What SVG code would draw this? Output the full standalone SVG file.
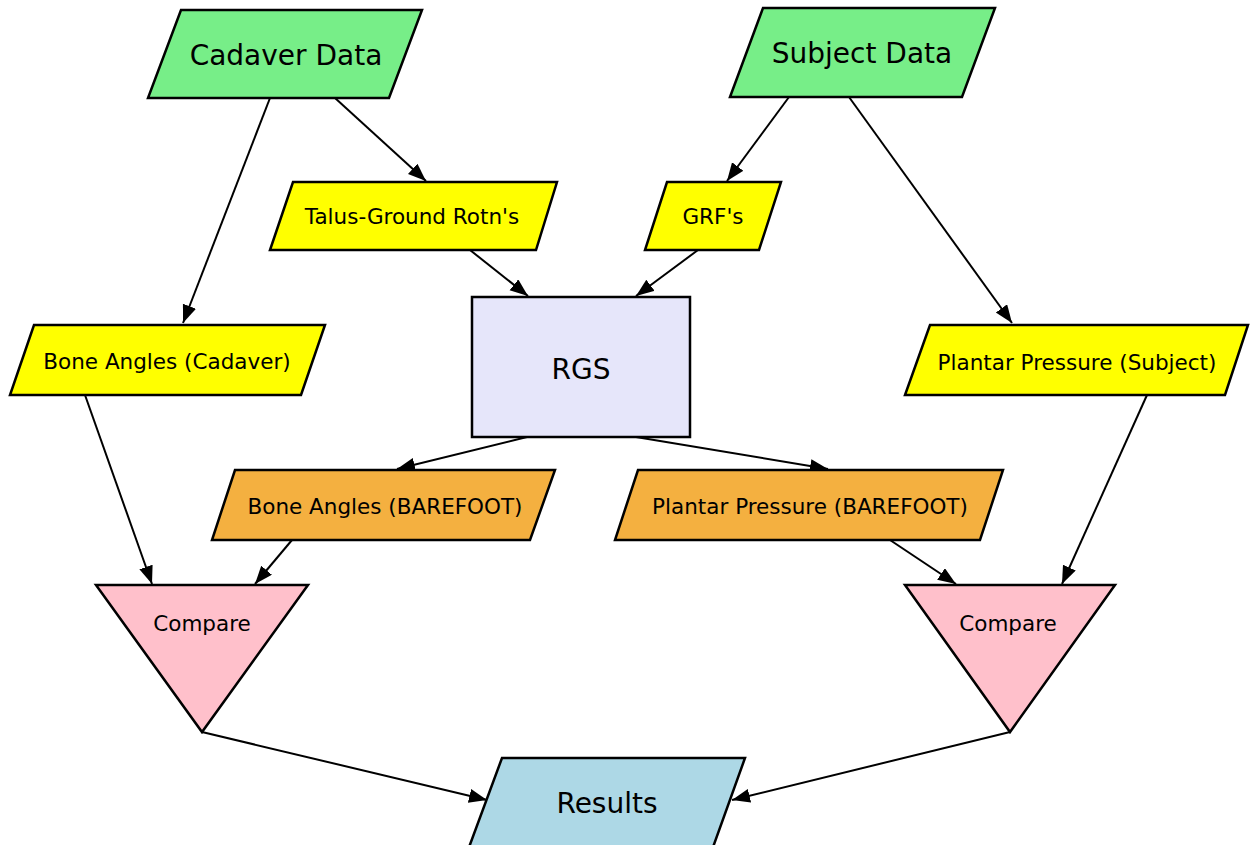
<svg xmlns="http://www.w3.org/2000/svg" width="1250" height="845" viewBox="0 0 1250 845">
<style>
.n{stroke:#000;stroke-width:2.5;stroke-linejoin:miter}
.g{fill:#77ee88}.y{fill:#ffff00}.o{fill:#f4b040}.p{fill:#ffc0cb}.l{fill:#e6e6fa}.b{fill:#add8e6}
text{font-family:"DejaVu Sans",sans-serif;text-anchor:middle;dominant-baseline:central;fill:#000}
.big{font-size:28px}.mid{font-size:21.5px}
.e{stroke:#000;stroke-width:2;fill:none;marker-end:url(#ah)}
</style>
<defs>
<marker id="ah" markerUnits="userSpaceOnUse" markerWidth="20" markerHeight="16" refX="18" refY="7" orient="auto">
<path d="M0,0 L18,7 L0,14 Z" fill="#000"/>
</marker>
</defs>
<rect width="1250" height="845" fill="#fff"/>
<g id="edges">
<path class="e" d="M270,98 L183,323"/>
<path class="e" d="M335,98 L426,181"/>
<path class="e" d="M789,97 L727,181"/>
<path class="e" d="M849,97 L1012,323"/>
<path class="e" d="M470,250 L528,296"/>
<path class="e" d="M698,250 L636,296"/>
<path class="e" d="M527,437 L397,469"/>
<path class="e" d="M636,437 L828,469"/>
<path class="e" d="M85,395 L152,584"/>
<path class="e" d="M292,540 L255,584"/>
<path class="e" d="M890,540 L956,584"/>
<path class="e" d="M1147,395 L1062,584"/>
<path class="e" d="M202,732 L487,800"/>
<path class="e" d="M1010,732 L732,800"/>
</g>
<g id="cadaver"><polygon class="n g" points="181,10 422,10 389,98 148,98"/><text class="big" x="286" y="55">Cadaver Data</text></g>
<g id="subject"><polygon class="n g" points="763,8 995,8 962,97 730,97"/><text class="big" x="862" y="53">Subject Data</text></g>
<g id="talus"><polygon class="n y" points="293,182 557,182 536,250 270,250"/><text class="mid" x="412" y="216">Talus-Ground Rotn's</text></g>
<g id="grf"><polygon class="n y" points="667,182 781,182 759,250 645,250"/><text class="mid" x="713" y="216">GRF's</text></g>
<g id="boneCad"><polygon class="n y" points="34,325 325,325 301,395 10,395"/><text class="mid" x="167" y="361">Bone Angles (Cadaver)</text></g>
<g id="rgs"><rect class="n l" x="472" y="297" width="218" height="140"/><text class="big" x="581" y="369">RGS</text></g>
<g id="ppSubject"><polygon class="n y" points="930,325 1248,325 1225,395 905,395"/><text class="mid" x="1077" y="362">Plantar Pressure (Subject)</text></g>
<g id="boneBF"><polygon class="n o" points="235,470 555,470 530,540 212,540"/><text class="mid" x="385" y="506">Bone Angles (BAREFOOT)</text></g>
<g id="ppBF"><polygon class="n o" points="638,470 1003,470 980,540 615,540"/><text class="mid" x="810" y="506">Plantar Pressure (BAREFOOT)</text></g>
<g id="compareL"><polygon class="n p" points="96,585 308,585 202,732"/><text class="mid" x="202" y="623">Compare</text></g>
<g id="compareR"><polygon class="n p" points="905,585 1115,585 1010,732"/><text class="mid" x="1008" y="623">Compare</text></g>
<g id="results"><polygon class="n b" points="502,758 745,758 712,850 468,850"/><text class="big" x="607" y="803">Results</text></g>
</svg>
